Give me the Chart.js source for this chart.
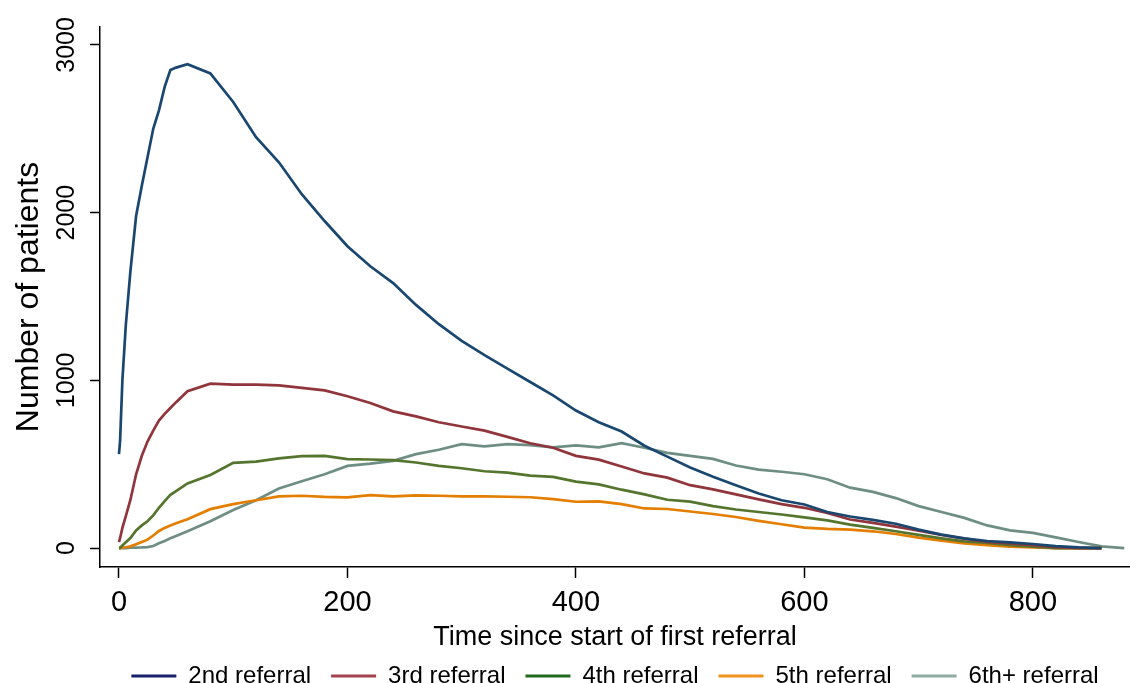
<!DOCTYPE html>
<html>
<head>
<meta charset="utf-8">
<title>Number of patients by referral</title>
<script src="https://cdn.jsdelivr.net/npm/chart.js@4.4.0/dist/chart.umd.min.js"></script>
<style>
    html, body { margin: 0; padding: 0; background: #fff; }
    #wrap { width: 1130px; height: 683px; }
</style>
</head>
<body>
<div id="wrap"><canvas id="myChart" width="1130" height="683"></canvas></div>
<script>
// time since start of first referral (days)
const days = [0, 1, 3, 6, 10, 15, 20, 25, 30, 35, 40, 45, 50, 60,
    80, 100, 120, 140, 160, 180, 200, 220, 240, 260, 280, 300, 320, 340, 360, 380,
    400, 420, 440, 460, 480, 500, 520, 540, 560, 580, 600, 620, 640, 660, 680,
    700, 720, 740, 760, 780, 800, 820, 840, 860, 880];

const referral2 = [560, 640, 1000, 1330, 1650, 1980, 2160, 2330, 2500, 2610, 2750, 2850, 2865, 2885,
    2830, 2660, 2450, 2300, 2110, 1950, 1800, 1680, 1580, 1450, 1335, 1235, 1150, 1070, 990, 910,
    820, 750, 695, 610, 545, 480, 425, 375, 325, 285, 260, 215, 188, 168, 145,
    110, 80, 58, 42, 34, 24, 12, 4, 0, null];

const referral3 = [36, 60, 120, 190, 287, 440, 550, 635, 700, 760, 800, 835, 870, 935,
    980, 975, 975, 970, 955, 940, 905, 865, 815, 785, 750, 725, 700, 663, 625, 598,
    550, 527, 486, 445, 420, 375, 350, 320, 290, 262, 240, 209, 170, 150, 128,
    103, 78, 56, 36, 28, 18, 6, 0, 0, null];

const referral4 = [0, 2, 15, 35, 60, 105, 135, 160, 195, 240, 280, 317, 340, 385,
    436, 508, 515, 535, 548, 550, 530, 528, 524, 510, 490, 476, 458, 450, 432, 424,
    396, 380, 348, 320, 288, 277, 250, 230, 215, 200, 183, 165, 140, 120, 100,
    79, 58, 40, 30, 17, 8, 0, 0, 0, null];

const referral5 = [0, 0, 2, 5, 10, 22, 36, 50, 75, 102, 120, 135, 148, 172,
    232, 262, 285, 308, 312, 305, 302, 315, 308, 314, 312, 308, 308, 306, 303, 292,
    276, 278, 262, 236, 233, 218, 203, 185, 162, 142, 122, 114, 110, 100, 84,
    62, 44, 28, 18, 9, 4, 0, 0, 0, null];

const referral6 = [0, 0, 0, 0, 2, 3, 4, 6, 12, 28, 42, 58, 72, 100,
    160, 227, 285, 355, 398, 440, 490, 503, 520, 560, 586, 620, 606, 620, 614, 600,
    612, 600, 625, 598, 568, 550, 532, 492, 468, 455, 440, 410, 360, 335, 298,
    250, 215, 180, 135, 105, 90, 64, 36, 10, 0];

const seriesNames = ['2nd referral', '3rd referral', '4th referral', '5th referral', '6th+ referral'];
const lineColors = ['#1a476f', '#90353b', '#55752f', '#e37e00', '#6e8e84'];
const legendColors = ['#14206a', '#a3434d', '#1e6b1e', '#f0921e', '#90aba2'];

const xTicks = [0, 200, 400, 600, 800];
const yTicks = [0, 1000, 2000, 3000];

Chart.defaults.font.family = "'Liberation Sans', Arial, sans-serif";
Chart.defaults.color = '#000';

const allSeries = [referral2, referral3, referral4, referral5, referral6];

const data = {
    datasets: allSeries.map((values, i) => ({
        label: seriesNames[i],
        data: days.map((d, j) => ({ x: d, y: values[j] })),
        borderColor: lineColors[i],
        backgroundColor: lineColors[i],
        borderWidth: 2.7,
        pointRadius: 0,
        fill: false,
        tension: 0
    }))
};

const config = {
    type: 'line',
    data: data,
    options: {
        responsive: false,
        animation: false,
        layout: { padding: { top: 27, right: 0, left: 0, bottom: -15 } },
        plugins: {
            tooltip: { enabled: false },
            legend: {
                position: 'bottom',
                fullSize: false,
                labels: {
                    boxWidth: 45,
                    boxHeight: 3,
                    padding: 20,
                    font: { size: 24 },
                    generateLabels: chart => chart.data.datasets.map((ds, i) => ({
                        text: ds.label,
                        fillStyle: legendColors[i],
                        strokeStyle: legendColors[i],
                        lineWidth: 0,
                        hidden: false,
                        datasetIndex: i
                    }))
                }
            }
        },
        scales: {
            x: {
                type: 'linear',
                min: -16.6,
                max: 885,
                afterBuildTicks: axis => { axis.ticks = xTicks.map(v => ({ value: v })); },
                afterFit: axis => { axis.height = 77; },
                grid: { drawOnChartArea: false, tickLength: 11, color: '#000', tickWidth: 1.5 },
                border: { color: '#000', width: 1.5 },
                ticks: { font: { size: 29 }, padding: 8, maxRotation: 0, autoSkip: false, callback: v => String(v) },
                title: {
                    display: true,
                    text: 'Time since start of first referral',
                    font: { size: 27 },
                    padding: { top: 0, bottom: -10 }
                }
            },
            y: {
                min: -113,
                max: 3107,
                afterBuildTicks: axis => { axis.ticks = yTicks.map(v => ({ value: v })); },
                afterFit: axis => { axis.width = 100; },
                grid: { drawOnChartArea: false, tickLength: 10, color: '#000', tickWidth: 1.5 },
                border: { color: '#000', width: 1.5 },
                ticks: {
                    font: { size: 25 }, minRotation: 90, maxRotation: 90, crossAlign: 'center',
                    padding: -5, autoSkip: false, callback: v => String(v)
                },
                title: {
                    display: true,
                    text: 'Number of patients',
                    font: { size: 32 },
                    padding: { top: 10, bottom: 0 }
                }
            }
        }
    }
};

new Chart(document.getElementById('myChart'), config);
</script>
</body>
</html>
